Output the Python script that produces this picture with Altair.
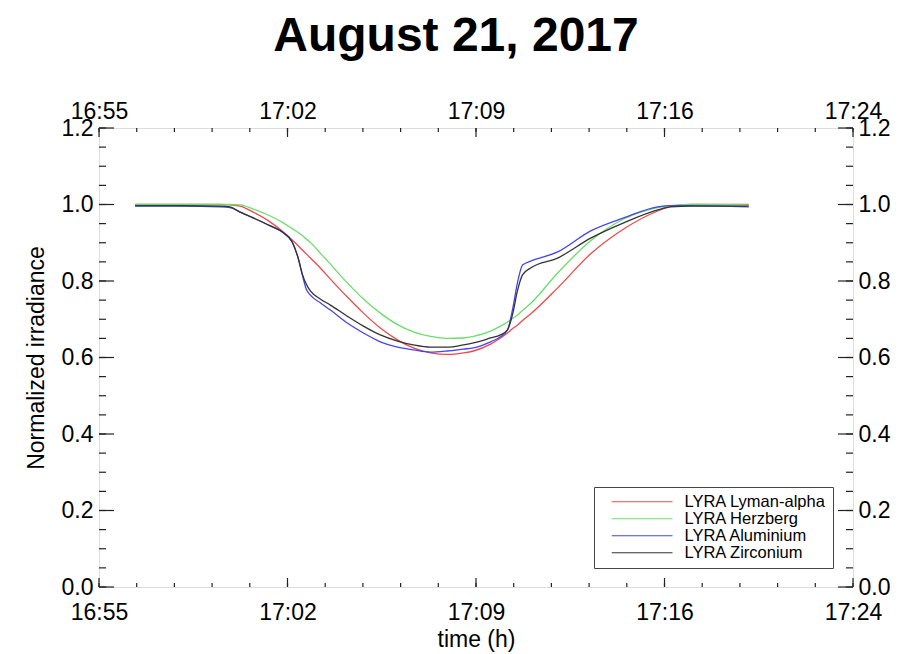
import altair as alt
import pandas as pd

# time in minutes after 16:55 UT
minutes = [1.39, 3.12, 4.66, 5.04, 5.43, 5.93, 6.59, 7.09, 7.43, 7.66, 7.82, 7.97, 8.13,
           8.51, 8.90, 9.55, 10.17, 10.82, 11.48, 12.09, 12.75, 13.40, 14.02, 14.40,
           15.06, 15.44, 15.71, 15.90, 16.10, 16.29, 16.60, 17.64, 18.91, 20.18, 21.49,
           21.99, 22.76, 24.99]

lyman_alpha = [1.000, 1.000, 1.000, 0.999, 0.996, 0.980, 0.954, 0.928, 0.907, 0.892, 0.881,
               0.871, 0.860, 0.834, 0.805, 0.758, 0.716, 0.677, 0.646, 0.625, 0.612, 0.608,
               0.612, 0.617, 0.635, 0.651, 0.664, 0.675, 0.685, 0.697, 0.714, 0.782, 0.871,
               0.936, 0.983, 0.995, 1.000, 1.000]

herzberg = [1.000, 1.000, 1.000, 1.000, 0.999, 0.988, 0.970, 0.952, 0.937, 0.927, 0.919,
            0.910, 0.901, 0.873, 0.844, 0.795, 0.753, 0.716, 0.686, 0.667, 0.655, 0.650,
            0.651, 0.655, 0.669, 0.682, 0.693, 0.702, 0.711, 0.723, 0.741, 0.821, 0.905,
            0.962, 0.992, 0.997, 1.000, 0.999]

aluminium = [0.996, 0.996, 0.994, 0.992, 0.980, 0.965, 0.944, 0.926, 0.902, 0.860, 0.816,
             0.779, 0.763, 0.743, 0.724, 0.690, 0.664, 0.641, 0.627, 0.620, 0.614, 0.617,
             0.622, 0.625, 0.641, 0.654, 0.672, 0.724, 0.797, 0.842, 0.852, 0.876, 0.931,
             0.965, 0.994, 0.997, 0.997, 0.994]

zirconium = [0.997, 0.997, 0.996, 0.994, 0.980, 0.965, 0.944, 0.926, 0.902, 0.860, 0.818,
             0.792, 0.774, 0.753, 0.737, 0.708, 0.682, 0.659, 0.643, 0.633, 0.627, 0.627,
             0.633, 0.638, 0.651, 0.659, 0.672, 0.711, 0.776, 0.816, 0.834, 0.860, 0.912,
             0.952, 0.986, 0.994, 0.996, 0.996]

series_names = ["LYRA Lyman-alpha", "LYRA Herzberg", "LYRA Aluminium", "LYRA Zirconium"]
series_colors = ["#f24848", "#6ade6a", "#4545f0", "#333333"]

x_major = [0, 7.25, 14.5, 21.75, 29]
x_labels = ["16:55", "17:02", "17:09", "17:16", "17:24"]
y_major = [0.0, 0.2, 0.4, 0.6, 0.8, 1.0, 1.2]

W, H = 754, 459
FONT = "Liberation Sans"
AX = "#222222"

rows = []
for name, vals in zip(series_names, [lyman_alpha, herzberg, aluminium, zirconium]):
    for t, v in zip(minutes, vals):
        rows.append({"t": t, "v": v, "series": name})
df = pd.DataFrame(rows)

x_minor = [round(i * 1.45, 3) for i in range(21)]
y_minor = [round(i * 0.05, 3) for i in range(25)]
xmaj_df = pd.DataFrame({"t": x_major})
xmin_df = pd.DataFrame({"t": x_minor})
ymaj_df = pd.DataFrame({"v": y_major})
ymin_df = pd.DataFrame({"v": y_minor})

xdom = alt.Scale(domain=[0, 29], nice=False, zero=False)
ydom = alt.Scale(domain=[0, 1.2], nice=False, zero=False)
label_expr = "[" + ",".join("'%s'" % s for s in x_labels) + "][round(datum.value/7.25)]"

lines = alt.Chart(df).mark_line(strokeWidth=1.3, interpolate="monotone").encode(
    x=alt.X("t:Q", scale=xdom,
            axis=alt.Axis(orient="bottom", values=x_major, labelExpr=label_expr,
                          ticks=False, domain=False, grid=False, title="time (h)",
                          labelFontSize=23, titleFontSize=23, labelFont=FONT, titleFont=FONT,
                          labelColor="black", titleColor="black", titleFontWeight="normal",
                          labelPadding=14, titlePadding=4, labelFlush=False)),
    y=alt.Y("v:Q", scale=ydom,
            axis=alt.Axis(orient="left", values=y_major, format=".1f",
                          ticks=False, domain=False, grid=False, title="Normalized irradiance",
                          labelFontSize=23, titleFontSize=23, labelFont=FONT, titleFont=FONT,
                          labelColor="black", titleColor="black", titleFontWeight="normal",
                          labelPadding=6, titlePadding=13, labelFlush=False)),
    color=alt.Color("series:N", scale=alt.Scale(domain=series_names, range=series_colors),
                    legend=alt.Legend(orient="none", legendX=495, legendY=359, title=None,
                                      symbolType="M0.4,0H8.5", symbolSize=225, symbolStrokeWidth=1,
                                      labelFontSize=16.5, labelFont=FONT, labelColor="black",
                                      labelOffset=67.5, rowPadding=0, padding=6.5,
                                      strokeColor="#444444", fillColor="white",
                                      labelLimit=400)),
)

def xticks(data, y0, y1, with_axis=False):
    enc_x = alt.X("t:Q", scale=xdom,
                  axis=alt.Axis(orient="top", values=x_major, labelExpr=label_expr,
                                ticks=False, domain=False, grid=False, title=None,
                                labelFontSize=23, labelFont=FONT, labelColor="black",
                                labelPadding=5, labelFlush=False) if with_axis else None)
    return alt.Chart(data).mark_rule(color=AX, strokeWidth=1.2).encode(
        x=enc_x, y=alt.value(y0), y2=alt.value(y1))

def yticks(data, x0, x1, with_axis=False):
    enc_y = alt.Y("v:Q", scale=ydom,
                  axis=alt.Axis(orient="right", values=y_major, format=".1f",
                                ticks=False, domain=False, grid=False, title=None,
                                labelFontSize=23, labelFont=FONT, labelColor="black",
                                labelPadding=5, labelFlush=False) if with_axis else None)
    return alt.Chart(data).mark_rule(color=AX, strokeWidth=1.2).encode(
        y=enc_y, x=alt.value(x0), x2=alt.value(x1))

layers = [
    lines,
    xticks(xmaj_df, 0, 9, with_axis=True),
    xticks(xmin_df, 0, 4),
    xticks(xmaj_df, H, H - 9),
    xticks(xmin_df, H, H - 4),
    yticks(ymaj_df, W, W - 15, with_axis=True),
    yticks(ymin_df, W, W - 7),
    yticks(ymaj_df, 0, 15),
    yticks(ymin_df, 0, 7),
]

chart = alt.layer(*layers).resolve_scale(x="independent", y="independent").properties(
    width=W, height=H,
    autosize="none",
    padding={"left": 99, "top": 128, "right": 53, "bottom": 67},
    title=alt.Title("August 21, 2017", fontSize=48, font=FONT, fontWeight="bold",
                    color="black", anchor="middle", dx=-20, offset=39),
).configure_view(stroke=AX, strokeWidth=1.3).configure(background="white")

chart.save("out.html", embed_options={"renderer": "svg", "actions": False})
